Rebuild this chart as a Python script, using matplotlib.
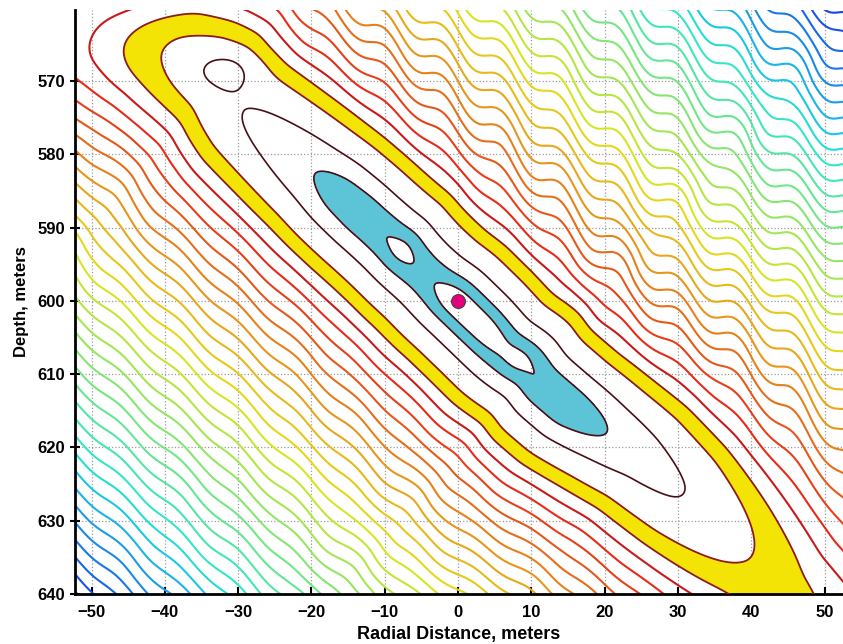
import numpy as np
import matplotlib
matplotlib.use("Agg")
import matplotlib.pyplot as plt

plt.rcParams["font.family"] = ["Liberation Sans", "DejaVu Sans"]
plt.rcParams["font.weight"] = "bold"

# --- chart values ---
x_ticks = [-50, -40, -30, -20, -10, 0, 10, 20, 30, 40, 50]
y_ticks = [570, 580, 590, 600, 610, 620, 630, 640]
source_x, source_y = 0.0, 600.0
valley_angle = 41.8            # degrees below horizontal

# valley floor and centre line along the valley axis (u, metres)
u_knots      = [-90, -61, -57.5, -53, -48, -44.6, -42, -39, -33, -26, -22, -18, -15, -12.5, -10.3, -8.3, -6, -3.5, 0, 5, 9, 11.5, 13.5, 16, 21, 27, 33, 40.6, 53, 60, 70, 90]
floor_knots  = [24, 11.75, 10.2, 8.3, 6.9, 6.3, 5.9, 5.45, 4.5, 3.3, 2.3, 1.9, 1.95, 1.8, 1.2, 1.8, 2.1, 1.8, 0.4, 0.6, 1.55, 1.2, 1.8, 1.85, 1.85, 3.3, 4.4, 5.45, 8.3, 9.6, 10.6, 12]
centre_knots = [9, 5.0, 2.8, 0.6, -0.6, -1.0, -0.3, 0.2, 0.1, 0.0, 0.0, 0.0, 0.0, 0.0, 0.0, 0.2, 0.3, 0.4, 0.3, 0.5, 0.8, 0.5, 0.3, 0.9, 0.8, 0.0, -0.8, -0.8, -0.5, 0.0, 0.0, 0.0]

# secondary minimum in the upper-left (small closed contour)
pocket_x, pocket_y = -31.8, 568.5
pocket_depth, pocket_sx, pocket_sy = 2.1, 4.0, 2.45

level_hole = 1.8
level_cyan = 3.3
level_inner = 5.45
level_yellow = [8.3, 10.2]
outer_levels = [10.2 + 1.75 * k for k in range(1, 36)]

# colour position (jet) for each distance from the valley
cmap_dist = [10, 14, 20, 25, 30, 35, 43, 50, 57, 64, 72]
cmap_pos  = [0.96, 0.88, 0.78, 0.71, 0.65, 0.58, 0.47, 0.37, 0.27, 0.18, 0.11]

# --- misfit surface ---
xg = np.linspace(-56, 56, 800)
yg = np.linspace(556, 644, 640)
X, Y = np.meshgrid(xg, yg)
th = np.radians(valley_angle)
U = np.cos(th) * (X - source_x) + np.sin(th) * (Y - source_y)
V = -np.sin(th) * (X - source_x) + np.cos(th) * (Y - source_y)

uf = np.linspace(-90, 90, 1801)
k = np.exp(-0.5 * (np.arange(-20, 21) / 8.0) ** 2); k /= k.sum()
floor_s = np.convolve(np.interp(uf, u_knots, floor_knots), k, mode="same")
centre_s = np.convolve(np.interp(uf, u_knots, centre_knots), k, mode="same")
floor_s[:25], floor_s[-25:] = np.interp(uf[:25], u_knots, floor_knots), np.interp(uf[-25:], u_knots, floor_knots)

E = np.interp(U, uf, floor_s)
V0 = np.interp(U, uf, centre_s)
D = np.abs(V - V0)
amp = np.where(V < 0, 0.9, 0.25) * np.clip((D - 10) / 10, 0, 1)
D = D + amp * np.sin(2 * np.pi * X / 8.0)
F = np.sqrt(D ** 2 + E ** 2)
F = F - pocket_depth * np.exp(-((X - pocket_x) / pocket_sx) ** 2 - ((Y - pocket_y) / pocket_sy) ** 2)

# --- plot ---
fig = plt.figure(figsize=(8.43, 6.44), dpi=100)
ax = fig.add_axes([0.089, 0.0776, 0.911, 0.9069])

t = np.interp(outer_levels, cmap_dist, cmap_pos)
cols = [tuple(0.8 * np.array(plt.cm.jet(v)[:3]) + 0.1) for v in t]
ax.contour(X, Y, F, levels=outer_levels, colors=cols, linewidths=1.5, zorder=2)

ax.contourf(X, Y, F, levels=[level_hole, level_cyan], colors=["#5cc4d6"], zorder=2)
ax.contourf(X, Y, F, levels=level_yellow, colors=["#f4e406"], zorder=2)
ax.contour(X, Y, F, levels=[level_hole, level_cyan, level_inner], colors=["#4a0f14"], linewidths=1.2, zorder=3)
ax.contour(X, Y, F, levels=level_yellow, colors=["#8e1b1b"], linewidths=1.3, zorder=3)

ax.plot(source_x, source_y, "o", ms=10, color="#e6007e", mec="#444", mew=0.8, zorder=5)

ax.set_xlim(-52.25, 52.5)
ax.set_ylim(640, 560.3)
ax.set_xticks(x_ticks)
ax.set_yticks(y_ticks)
ax.grid(True, ls=":", color="#9a9a9a", lw=0.9, zorder=0)
ax.set_axisbelow(True)
for side in ["top", "right"]:
    ax.spines[side].set_visible(False)
for side in ["left", "bottom"]:
    ax.spines[side].set_linewidth(2)
ax.tick_params(axis="x", direction="in", length=5, width=1.5, labelsize=12, pad=8)
ax.tick_params(axis="y", direction="inout", length=7, width=1.5, labelsize=12)
ax.set_xlabel("Radial Distance, meters", fontsize=13, fontweight="bold", labelpad=4)
ax.set_ylabel("Depth, meters", fontsize=12, fontweight="bold", labelpad=6)

fig.savefig("out.png", dpi=100)
